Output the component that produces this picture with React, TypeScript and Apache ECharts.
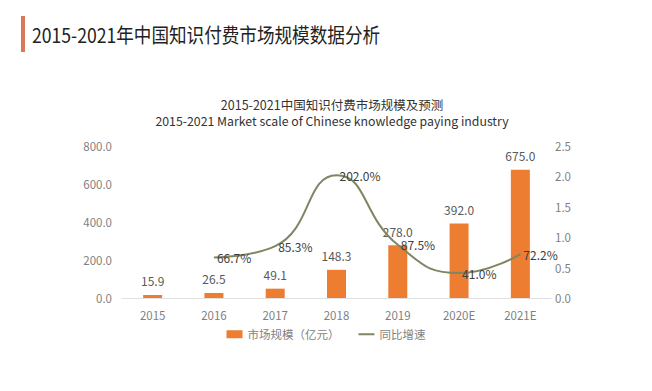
import React, { useEffect, useRef } from "react";
import * as echarts from "echarts";

const categories = ["2015", "2016", "2017", "2018", "2019", "2020E", "2021E"];
const marketSize = [15.9, 26.5, 49.1, 148.3, 278.0, 392.0, 675.0];
const growth: (number | null)[] = [null, 0.667, 0.853, 2.02, 0.875, 0.41, 0.722];

const FONT = "'Noto Sans CJK SC', 'Noto Sans', sans-serif";

export default function App() {
  const ref = useRef<HTMLDivElement>(null);
  useEffect(() => {
    if (!ref.current) return;
    const chart = echarts.init(ref.current, undefined, { renderer: "svg" });
    chart.setOption({
      animation: false,
      backgroundColor: "#ffffff",
      textStyle: { fontFamily: FONT },
      graphic: [
        { type: "rect", shape: { x: 21, y: 16, width: 4, height: 36 }, style: { fill: "#d9795a" } },
        {
          type: "text",
          x: 32,
          y: 34,
          scaleX: 0.88,
          style: {
            text: "2015-2021年中国知识付费市场规模数据分析",
            font: `20px ${FONT}`,
            fill: "#222222",
            verticalAlign: "middle",
          },
        },
      ],
      title: [
        {
          text: "2015-2021中国知识付费市场规模及预测",
          left: 327,
          top: 93,
          textAlign: "center",
          textStyle: { fontSize: 12.5, fontWeight: "normal", color: "#333333", fontFamily: FONT },
        },
        {
          text: "2015-2021 Market scale of Chinese knowledge paying industry",
          left: 327,
          top: 110,
          textAlign: "center",
          textStyle: { fontSize: 12.3, fontWeight: "normal", color: "#333333", fontFamily: FONT },
        },
      ],
      legend: {
        bottom: 46,
        left: "center",
        itemGap: 18,
        itemWidth: 16,
        itemHeight: 8,
        textStyle: { fontSize: 11.5, color: "#7f7f7f", fontFamily: FONT },
        data: [
          { name: "市场规模（亿元）", icon: "rect" },
          { name: "同比增速" },
        ],
      },
      grid: { left: 122, top: 146, width: 429, height: 152 },
      xAxis: {
        type: "category",
        data: categories,
        axisLine: { lineStyle: { color: "#e0e0e0" } },
        axisTick: { show: false },
        axisLabel: { color: "#7f7f7f", fontSize: 11.5, margin: 11 },
      },
      yAxis: [
        {
          type: "value",
          min: 0,
          max: 800,
          interval: 200,
          splitLine: { show: false },
          axisLine: { show: false },
          axisTick: { show: false },
          axisLabel: { color: "#7f7f7f", fontSize: 11.5, margin: 10, formatter: (v: number) => v.toFixed(1) },
        },
        {
          type: "value",
          min: 0,
          max: 2.5,
          interval: 0.5,
          splitLine: { show: false },
          axisLine: { show: false },
          axisTick: { show: false },
          axisLabel: { color: "#7f7f7f", fontSize: 11.5, margin: 4, formatter: (v: number) => v.toFixed(1) },
        },
      ],
      series: [
        {
          name: "市场规模（亿元）",
          type: "bar",
          data: marketSize,
          barWidth: "31%",
          itemStyle: { color: "#ed7d31" },
          label: {
            show: true,
            position: "top",
            distance: 8,
            color: "#595959",
            fontSize: 12,
            formatter: (p: any) => Number(p.value).toFixed(1),
          },
        },
        {
          name: "同比增速",
          type: "line",
          yAxisIndex: 1,
          data: growth,
          smooth: 0.5,
          showSymbol: true,
          symbol: "circle",
          symbolSize: 4,
          connectNulls: false,
          lineStyle: { color: "#7f8762", width: 2 },
          itemStyle: { color: "#7f8762", opacity: 0 },
          label: {
            show: true,
            position: "right",
            distance: 1,
            color: "#404040",
            opacity: 1,
            fontSize: 12,
            formatter: (p: any) => (p.value == null ? "" : (p.value * 100).toFixed(1) + "%"),
          },
        },
      ],
    });
    return () => chart.dispose();
  }, []);
  return <div ref={ref} style={{ position: "fixed", left: 0, top: 0, width: 652, height: 391 }} />;
}
